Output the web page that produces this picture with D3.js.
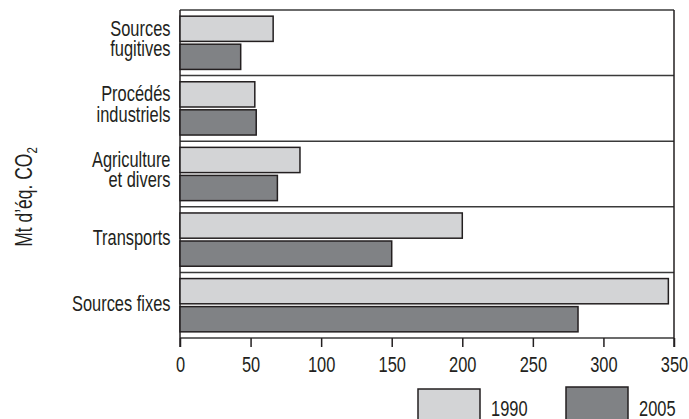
<!DOCTYPE html>
<html><head><meta charset="utf-8">
<script src="https://cdn.jsdelivr.net/npm/d3@7"></script>
<style>
body{margin:0;background:#fff;}
text{font-family:"Liberation Sans",Arial,sans-serif;fill:#231f20;}
</style></head>
<body><svg id="c" width="689" height="419"></svg>
<script>
const categories = ["Sources fugitives","Procédés industriels","Agriculture et divers","Transports","Sources fixes"];
const categoryLines = [["Sources","fugitives"],["Procédés","industriels"],["Agriculture","et divers"],["Transports"],["Sources fixes"]];
const series = ["1990","2005"];
const values1990 = [66, 53, 85, 200, 346];
const values2005 = [43, 54, 69, 150, 282];
const xTicks = [0,50,100,150,200,250,300,350];
const yLabel = "Mt d’éq. CO";

const colors = {"1990":"#d3d4d6","2005":"#808285"};
const svg = d3.select("#c");
const L=180, R=674, T=10, B=338;
const SX=0.73, fs=22.5;
const x = d3.scaleLinear().domain([0,350]).range([L,R]);
const y = d3.scaleBand().domain(categories).range([T,B]).paddingInner(0).paddingOuter(0);
const yi = d3.scaleBand().domain(series).range([0,y.bandwidth()]).paddingInner(0.1).paddingOuter(0.22);

const data = categories.map((c,i)=>({cat:c,lines:categoryLines[i],v:{"1990":values1990[i],"2005":values2005[i]}}));

// condensed text helper
function ctext(parent, px, py, anchor, size, sx){
  return parent.append("g").attr("transform",`translate(${px},${py}) scale(${sx||SX},1)`)
    .append("text").attr("text-anchor",anchor).attr("font-size",size);
}

// separators
svg.append("g").selectAll("line").data(categories).join("line")
  .attr("x1",L).attr("x2",R).attr("y1",d=>y(d)).attr("y2",d=>y(d))
  .attr("stroke","#3a3a3a").attr("stroke-width",1.5);
svg.append("line").attr("x1",L).attr("x2",R).attr("y1",B).attr("y2",B).attr("stroke","#3a3a3a").attr("stroke-width",1.5);
// verticals
svg.append("line").attr("x1",L).attr("x2",L).attr("y1",T).attr("y2",B+9).attr("stroke","#231f20").attr("stroke-width",1.5);
svg.append("line").attr("x1",R).attr("x2",R).attr("y1",T).attr("y2",B+9).attr("stroke","#231f20").attr("stroke-width",1.5);

// bars
const g = svg.append("g").selectAll("g").data(data).join("g").attr("transform",d=>`translate(0,${y(d.cat)})`);
g.selectAll("rect").data(d=>series.map(s=>({s,v:d.v[s]}))).join("rect")
  .attr("x",x(0)).attr("y",d=>yi(d.s)).attr("width",d=>x(d.v)-x(0)).attr("height",yi.bandwidth())
  .attr("fill",d=>colors[d.s]).attr("stroke","#231f20").attr("stroke-width",1.5);

// category labels (one text per line)
g.each(function(d){
  const n=d.lines.length, lh=20.5;
  d.lines.forEach((ln,j)=>{
    ctext(d3.select(this), L-9.5, y.bandwidth()/2 + 5.5 - (n-1)*2.5 + (j-(n-1)/2)*lh, "end", fs).text(ln);
  });
});

// x axis
const ax = svg.append("g").attr("transform",`translate(0,${B})`)
  .call(d3.axisBottom(x).tickValues(xTicks).tickSize(9).tickSizeOuter(0));
ax.select(".domain").remove();
ax.selectAll(".tick line").attr("stroke","#231f20").attr("stroke-width",1.5);
ax.selectAll(".tick text").remove();
ax.selectAll(".tick").each(function(d){
  ctext(d3.select(this), 0, 34.3, "middle", fs).text(d);
});

// y label
const ylg = svg.append("g").attr("transform","translate(31.5,197) rotate(-90) scale(0.76,1)");
const yl = ylg.append("text").attr("text-anchor","middle").attr("font-size",23);
yl.append("tspan").text(yLabel);
yl.append("tspan").attr("font-size",15).attr("dy",5).text("2");

// legend
const leg = svg.append("g").selectAll("g").data(series).join("g")
  .attr("transform",(d,i)=>`translate(${418+i*148},${389-i*2})`);
leg.append("rect").attr("width",62).attr("height",40).attr("fill",d=>colors[d]).attr("stroke","#231f20").attr("stroke-width",1.5);
leg.each(function(d,i){ ctext(d3.select(this), 73, 26.5+i*2, "start", fs).text(d); });
</script></body></html>
